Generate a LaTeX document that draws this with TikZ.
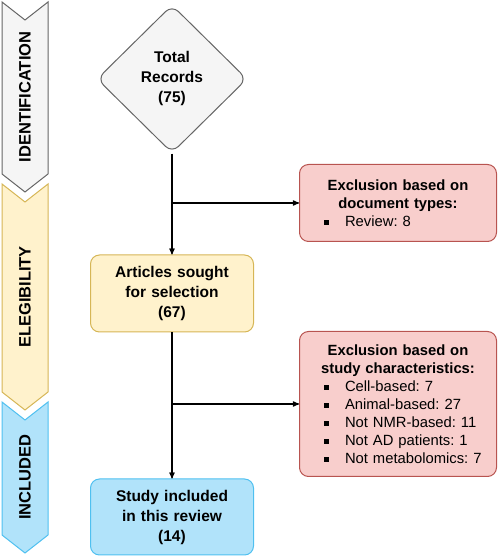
\documentclass[tikz,border=0pt]{standalone}
\usepackage{fontspec}
\setmainfont{Liberation Sans}
\usetikzlibrary{arrows}
\usetikzlibrary{positioning}
\usetikzlibrary{shapes.geometric}
\definecolor{idfill}{HTML}{F5F5F5}
\definecolor{iddraw}{HTML}{666666}
\definecolor{elfill}{HTML}{FFF2CC}
\definecolor{eldraw}{HTML}{D6B656}
\definecolor{infill}{HTML}{B1E3FA}
\definecolor{indraw}{HTML}{4FC0F0}
\definecolor{exfill}{HTML}{F8CECC}
\definecolor{exdraw}{HTML}{B85450}
\frenchspacing
\newcommand{\itm}{\hspace*{16.5pt}\rule[1.5pt]{5pt}{5pt}\hspace{16pt}}
\tikzset{
	>=stealth',
	stage/.style={
		rectangle,
		rounded corners=9pt,
		line width=1pt,
		minimum width=163pt,
		minimum height=77pt,
		text width=150pt,
		align=center,
		font=\fontsize{15.5}{20}\selectfont\bfseries},
	decision/.style={
		diamond,
		rounded corners=9pt,
		line width=1pt,
		inner sep=0pt,
		minimum width=150pt,
		minimum height=148pt,
		align=center,
		font=\fontsize{15.5}{20}\selectfont\bfseries},
	excl/.style={
		rectangle,
		rounded corners=9pt,
		line width=1pt,
		fill=exfill, draw=exdraw,
		minimum width=197pt,
		inner xsep=8pt,
		text width=181pt,
		align=left,
		anchor=west,
		font=\fontsize{14.8}{18}\selectfont},
	banner/.style={line width=1pt},
	bannertext/.style={rotate=90, font=\fontsize{16.5}{20}\selectfont\bfseries},
	flow/.style={draw, line width=1.2pt, ->},
}

\begin{document}
\begin{tikzpicture}[x=1pt, y=1pt]
	\useasboundingbox (0,0) rectangle (498,556);
	% stage banners
	\draw[banner, fill=idfill, draw=iddraw] (2,554) -- (25,536) -- (48,554) -- (48,382) -- (25,364) -- (2,382) -- cycle;
	\draw[banner, fill=elfill, draw=eldraw] (2,372) -- (25,354) -- (48,372) -- (48,164) -- (25,146) -- (2,164) -- cycle;
	\draw[banner, fill=infill, draw=indraw] (2,154) -- (25,136) -- (48,154) -- (48,21) -- (25,3) -- (2,21) -- cycle;
	\node[bannertext] (identlabel) at (25,459) {IDENTIFICATION};
	\node[bannertext] (eleglabel) at (25,259) {ELEGIBILITY};
	\node[bannertext] (incllabel) at (25,79) {INCLUDED};
	
	% main flow
	\node[decision, fill=idfill, draw=iddraw] (total) at (172,477) {Total\\Records\\(75)};
	\node[stage, fill=elfill, draw=eldraw, below=101pt of total] (articles) {Articles sought\\for selection\\(67)};
	\node[stage, fill=infill, draw=indraw, minimum height=76pt, below=146pt of articles] (study) {Study included\\in this review\\(14)};
	
	\coordinate (branchone) at (172,353);
	\coordinate (branchtwo) at (172,152);
	\node[excl, minimum height=77pt, right=127pt of branchone] (exclone)
		{{\centering\bfseries Exclusion based on\\document types:\par}
		\itm Review: 8};
	\node[excl, minimum height=145pt, right=127pt of branchtwo] (excltwo)
		{{\centering\bfseries Exclusion based on\\study characteristics:\par}
		\itm Cell-based: 7\\
		\itm Animal-based: 27\\
		\itm Not NMR-based: 11\\
		\itm Not AD patients: 1\\
		\itm Not metabolomics: 7};
	
	\draw[flow] (total) -- (articles);
	\draw[flow] (articles) -- (study);
	\draw[flow] (branchone) -- (exclone);
	\draw[flow] (branchtwo) -- (excltwo);
\end{tikzpicture}
\end{document}
